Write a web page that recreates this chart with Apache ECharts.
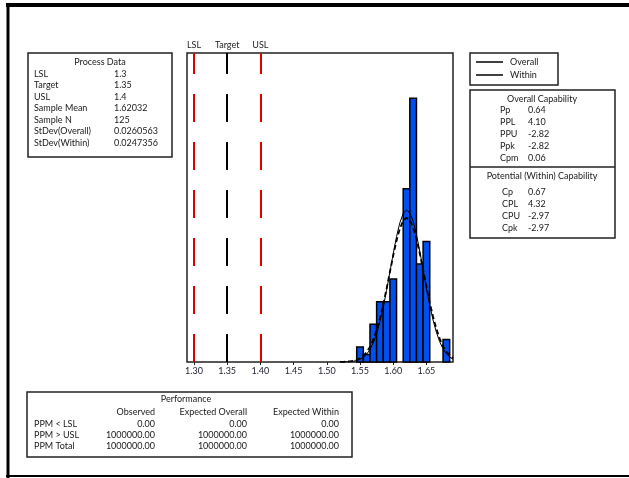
<!DOCTYPE html>
<html><head><meta charset="utf-8">
<script src="https://cdn.jsdelivr.net/npm/echarts@6/dist/echarts.min.js"></script>
<style>html,body{margin:0;padding:0;background:#fff}#c{width:629px;height:478px}</style>
</head><body><div id="c"></div>
<script>
// ---- data ----
const binLower = [1.545,1.555,1.565,1.575,1.585,1.595,1.605,1.615,1.625,1.635,1.645,1.655,1.665,1.675];
const binWidth = 0.01;
const counts = [2,1,5,8,8,11,0,23,35,13,16,0,0,3];
const curveX = [1.520,1.525,1.530,1.535,1.540,1.545,1.550,1.555,1.560,1.565,1.570,1.575,1.580,1.585,1.590,1.595,1.600,1.605,1.610,1.615,1.620,1.625,1.630,1.635,1.640,1.645,1.650,1.655,1.660,1.665,1.670,1.675,1.680,1.685,1.690];
const overallFit = [0.01,0.02,0.05,0.09,0.17,0.29,0.50,0.83,1.31,2.01,2.97,4.22,5.78,7.64,9.73,11.94,14.12,16.10,17.70,18.75,19.14,18.83,17.86,16.33,14.39,12.22,10.00,7.89,6.00,4.40,3.11,2.12,1.39,0.88,0.54];
const withinFit = [0.01,0.01,0.03,0.05,0.10,0.20,0.35,0.62,1.03,1.65,2.55,3.76,5.34,7.27,9.51,11.94,14.39,16.64,18.48,19.70,20.16,19.80,18.67,16.90,14.69,12.26,9.81,7.55,5.57,3.95,2.68,1.75,1.10,0.66,0.38];
const specNames = ['LSL','Target','USL'];
const specValues = [1.30,1.35,1.40];
const xTicks = [1.30,1.35,1.40,1.45,1.50,1.55,1.60,1.65];
const xTickLabels = ['1.30','1.35','1.40','1.45','1.50','1.55','1.60','1.65'];
const processLabels = ['LSL','Target','USL','Sample Mean','Sample N','StDev(Overall)','StDev(Within)'];
const processValues = ['1.3','1.35','1.4','1.62032','125','0.0260563','0.0247356'];
const overallCapLabels = ['Pp','PPL','PPU','Ppk','Cpm'];
const overallCapValues = ['0.64','4.10','-2.82','-2.82','0.06'];
const withinCapLabels = ['Cp','CPL','CPU','Cpk'];
const withinCapValues = ['0.67','4.32','-2.97','-2.97'];
const perfRows = ['PPM < LSL','PPM > USL','PPM Total'];
const perfCols = ['Observed','Expected Overall','Expected Within'];
const perfObserved = ['0.00','1000000.00','1000000.00'];
const perfExpOverall = ['0.00','1000000.00','1000000.00'];
const perfExpWithin = ['0.00','1000000.00','1000000.00'];
const legendNames = ['Overall','Within'];

// ---- chart ----
const FONT = 'Lato';
const TXT = '#1a1a1a';
const chart = echarts.init(document.getElementById('c'), null, {renderer:'canvas'});

function t(x, y, s, align) {
  return {type:'text', x:x, y:y, style:{text:s, fill:TXT, font:'9px ' + FONT, textAlign:align||'left', textVerticalAlign:'middle'}};
}
const g = [];
// outer frame
g.push({type:'line', shape:{x1:6,y1:5,x2:629,y2:5}, style:{stroke:'#000', lineWidth:4}});
g.push({type:'line', shape:{x1:8,y1:3,x2:8,y2:478}, style:{stroke:'#000', lineWidth:3}});
g.push({type:'line', shape:{x1:6,y1:476,x2:629,y2:476}, style:{stroke:'#000', lineWidth:2}});
// Process data box
g.push({type:'rect', shape:{x:28,y:53,width:144,height:104}, style:{fill:'none', stroke:'#222', lineWidth:1.5}});
g.push(t(100, 62, 'Process Data', 'center'));
processLabels.forEach((s,i)=>{ g.push(t(34, 74 + i*11.5, s)); g.push(t(114, 74 + i*11.5, processValues[i])); });
// legend box
g.push({type:'rect', shape:{x:470,y:53,width:88,height:32}, style:{fill:'none', stroke:'#222', lineWidth:1.5}});
legendNames.forEach((s,i)=>{
  g.push({type:'line', shape:{x1:476,y1:62+i*13,x2:503,y2:62+i*13}, style:{stroke:'#000', lineWidth:1.5}});
  g.push(t(510, 62+i*13, s));
});
// capability box
g.push({type:'rect', shape:{x:470,y:90,width:145,height:148}, style:{fill:'none', stroke:'#222', lineWidth:1.5}});
g.push({type:'line', shape:{x1:470,y1:167,x2:615,y2:167}, style:{stroke:'#222', lineWidth:1.5}});
g.push(t(542, 99, 'Overall Capability', 'center'));
overallCapLabels.forEach((s,i)=>{ g.push(t(500, 110 + i*12, s)); g.push(t(528, 110 + i*12, overallCapValues[i])); });
g.push(t(542, 176, 'Potential (Within) Capability', 'center'));
withinCapLabels.forEach((s,i)=>{ g.push(t(502, 192 + i*12, s)); g.push(t(528, 192 + i*12, withinCapValues[i])); });
// performance box
g.push({type:'rect', shape:{x:27,y:392,width:325,height:65}, style:{fill:'none', stroke:'#222', lineWidth:1.5}});
g.push(t(186, 399, 'Performance', 'center'));
const colRight = [155, 247, 339];
perfCols.forEach((s,i)=>g.push(t(colRight[i], 412, s, 'right')));
const perfData = [perfObserved, perfExpOverall, perfExpWithin];
perfRows.forEach((s,r)=>{
  g.push(t(34, 424 + r*11, s));
  perfData.forEach((col,c)=>g.push(t(colRight[c], 424 + r*11, col[r], 'right')));
});

const option = {
  animation:false,
  backgroundColor:'#fff',
  grid:{left:187, top:53, width:266, height:309, show:true, borderColor:'#222', borderWidth:1.5, backgroundColor:'transparent'},
  xAxis:{type:'value', min:1.2895, max:1.690,
    axisLine:{show:false},
    splitLine:{show:false},
    axisTick:{show:true, length:3, lineStyle:{color:'#222'}, customValues:xTicks},
    axisLabel:{show:true, customValues:xTicks, margin:5, color:'#223', fontFamily:FONT, fontSize:9,
      formatter:(v)=>{const i = xTicks.findIndex(a=>Math.abs(a-v)<1e-6); return i>=0?xTickLabels[i]:'';}}
  },
  yAxis:{type:'value', min:0, max:41, show:false, splitLine:{show:false}},
  series:[
    {type:'custom', name:'hist', data: binLower.map((b,i)=>[b, b+binWidth, counts[i]]),
      renderItem:(params, api)=>{
        const h = api.value(2);
        if (!h) return null;
        const p0 = api.coord([api.value(0), h]);
        const p1 = api.coord([api.value(1), 0]);
        return {type:'rect', shape:{x:p0[0], y:p0[1], width:p1[0]-p0[0], height:p1[1]-p0[1]},
          style:{fill:'#0050F0', stroke:'#000', lineWidth:1.5}};
      }, z:2},
    {type:'line', name:'Within', data: curveX.map((x,i)=>[x, withinFit[i]]), symbol:'none',
      lineStyle:{color:'#000', width:1}, z:3},
    {type:'line', name:'Overall', data: curveX.map((x,i)=>[x, overallFit[i]]), symbol:'none',
      lineStyle:{color:'#000', width:1.8, type:[5,3]}, z:4,
      markLine:{symbol:['none','none'], silent:true, z:1,
        label:{show:true, position:'end', formatter:'{b}', color:'#222', fontFamily:FONT, fontSize:9, distance:3},
        data: specValues.map((v,i)=>({name:specNames[i], xAxis:v,
          lineStyle:{color: specNames[i]==='Target' ? '#000' : '#e00000', width:2, type:[28,20]}}))
      }}
  ],
  graphic: g
};
chart.setOption(option);
</script></body></html>
